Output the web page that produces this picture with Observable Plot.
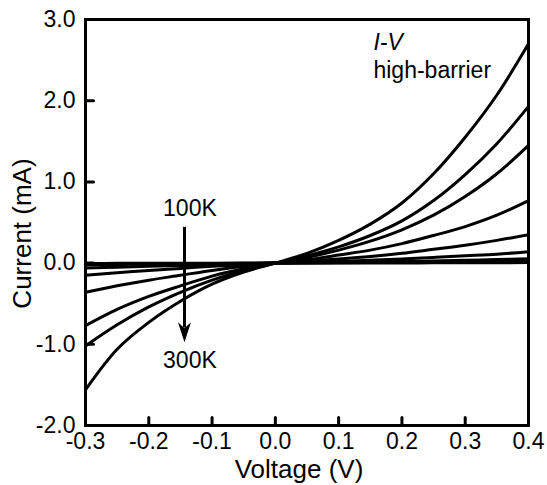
<!DOCTYPE html>
<html>
<head>
<meta charset="utf-8">
<script src="https://cdn.jsdelivr.net/npm/d3@7"></script>
<script src="https://cdn.jsdelivr.net/npm/@observablehq/plot@0.6"></script>
<style>
  html, body { margin: 0; padding: 0; background: #fff; }
  #chart svg { display: block; }
</style>
</head>
<body>
<div id="chart"></div>
<script>
// Voltage samples (V)
const voltage = [-0.3, -0.25, -0.2, -0.15, -0.1, -0.05, 0, 0.05, 0.1, 0.15, 0.2, 0.25, 0.3, 0.35, 0.4];

// Temperature labels of the curves (100K -> 300K)
const temps = ["100K", "115K", "130K", "160K", "190K", "220K", "250K", "275K", "300K"];

// Current (mA) for each temperature
const cur100 = [-0.004, -0.003, -0.002, -0.002, -0.001, -0.001, 0, 0.001, 0.001, 0.002, 0.002, 0.003, 0.004, 0.005, 0.006];
const cur115 = [-0.012, -0.01, -0.008, -0.006, -0.004, -0.002, 0, 0.002, 0.004, 0.006, 0.009, 0.012, 0.015, 0.019, 0.024];
const cur130 = [-0.02, -0.017, -0.013, -0.01, -0.007, -0.003, 0, 0.004, 0.008, 0.013, 0.02, 0.027, 0.035, 0.043, 0.055];
const cur160 = [-0.06, -0.05, -0.04, -0.03, -0.02, -0.01, 0, 0.01, 0.02, 0.035, 0.05, 0.07, 0.09, 0.11, 0.14];
const cur190 = [-0.15, -0.12, -0.09, -0.065, -0.04, -0.02, 0, 0.025, 0.05, 0.08, 0.12, 0.17, 0.22, 0.28, 0.35];
const cur220 = [-0.36, -0.28, -0.21, -0.15, -0.09, -0.04, 0, 0.04, 0.10, 0.16, 0.24, 0.34, 0.45, 0.59, 0.77];
const cur250 = [-0.77, -0.57, -0.41, -0.28, -0.16, -0.07, 0, 0.07, 0.16, 0.27, 0.41, 0.59, 0.82, 1.10, 1.45];
const cur275 = [-1.02, -0.76, -0.54, -0.36, -0.21, -0.09, 0, 0.09, 0.20, 0.34, 0.52, 0.77, 1.09, 1.47, 1.93];
const cur300 = [-1.56, -1.06, -0.73, -0.47, -0.26, -0.11, 0, 0.12, 0.28, 0.48, 0.74, 1.10, 1.55, 2.07, 2.70];

// Tick values
const xTicks = [-0.3, -0.2, -0.1, 0.0, 0.1, 0.2, 0.3, 0.4];
const yTicks = [-2, -1, 0, 1, 2, 3];

const series = [cur100, cur115, cur130, cur160, cur190, cur220, cur250, cur275, cur300];
const rows = series.flatMap((s, k) => voltage.map((v, i) => ({V: v, I: s[i], T: temps[k]})));

const tickShape = {
  draw(context, l) {
    context.moveTo(0, 0);
    context.lineTo(0, -l);
  }
};

// filled, barbed arrowhead (tip at the far end)
const headShape = {
  draw(context, l) {
    const w = 6.5;
    context.moveTo(0, -l);
    context.lineTo(w, 0);
    context.lineTo(0, -l * 0.3);
    context.lineTo(-w, 0);
    context.closePath();
  }
};

const font = "Arial, 'Liberation Sans', Helvetica, sans-serif";

const chart = Plot.plot({
  width: 547,
  height: 485,
  marginLeft: 85,
  marginRight: 19,
  marginTop: 19,
  marginBottom: 60,
  style: {fontFamily: font, fontSize: "23px", color: "black", background: "white"},
  x: {domain: [-0.3, 0.4]},
  y: {domain: [-2, 3]},
  marks: [
    Plot.line(rows, {x: "V", y: "I", z: "T", stroke: "black", strokeWidth: 3, curve: "catmull-rom"}),
    Plot.frame({stroke: "black", strokeWidth: 3}),
    // inward tick marks
    Plot.vector(xTicks, {x: d => d, y: -2, length: 8, rotate: 0, anchor: "start", shape: tickShape, stroke: "black", strokeWidth: 3}),
    Plot.vector(yTicks, {x: -0.3, y: d => d, length: 8, rotate: 90, anchor: "start", shape: tickShape, stroke: "black", strokeWidth: 3}),
    Plot.axisX({ticks: xTicks, tickSize: 0, tickPadding: 7, tickFormat: d => d.toFixed(1), label: null, fontSize: 23}),
    Plot.axisY({ticks: yTicks, tickSize: 0, tickPadding: 10, tickFormat: d => d.toFixed(1), label: null, fontSize: 23}),
    // axis titles
    Plot.text(["Voltage (V)"], {text: d => d, frameAnchor: "bottom", dy: 44, dx: -8, fontSize: 26, textAnchor: "middle", lineAnchor: "middle"}),
    Plot.text(["Current (mA)"], {text: d => d, frameAnchor: "left", dx: -63, dy: 11, rotate: -90, fontSize: 26, textAnchor: "middle", lineAnchor: "middle"}),
    // annotations
    Plot.text(["I-V"], {text: d => d, x: 0.155, y: 2.71, textAnchor: "start", lineAnchor: "middle", fontStyle: "italic", fontSize: 23}),
    Plot.text(["high-barrier"], {text: d => d, x: 0.155, y: 2.37, textAnchor: "start", lineAnchor: "middle", fontSize: 23}),
    Plot.text(["100K"], {text: d => d, x: -0.135, y: 0.667, textAnchor: "middle", lineAnchor: "middle", fontSize: 23}),
    Plot.text(["300K"], {text: d => d, x: -0.135, y: -1.195, textAnchor: "middle", lineAnchor: "middle", fontSize: 23}),
    Plot.ruleX([-0.1436], {x: d => d, y1: 0.44, y2: -0.8, stroke: "black", strokeWidth: 3}),
    Plot.vector([-0.1436], {x: d => d, y: -0.975, length: 20, rotate: 180, anchor: "end", shape: headShape, fill: "black", stroke: "none"})
  ]
});

document.getElementById("chart").appendChild(chart);
</script>
</body>
</html>
